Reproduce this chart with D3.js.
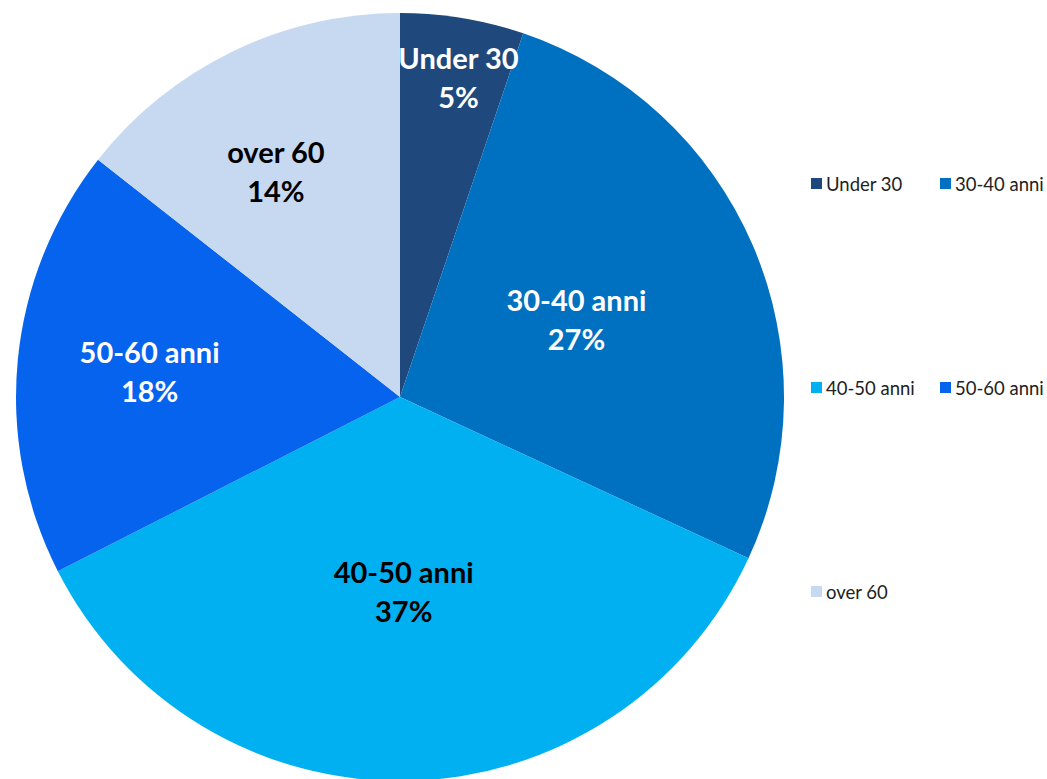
<!DOCTYPE html>
<html>
<head>
<meta charset="utf-8">
<script src="https://cdn.jsdelivr.net/npm/d3@7"></script>
<style>
  body { margin: 0; background: #fff; }
  text { font-family: Lato, "Open Sans", sans-serif; }
</style>
</head>
<body>
<div id="chart"></div>
<script>
// slice data
var categories = ['Under 30', '30-40 anni', '40-50 anni', '50-60 anni', 'over 60']
var values = [5.2, 26.7, 35.6, 18.1, 14.4]
var pctLabels = ['5%', '27%', '37%', '18%', '14%']

var colors = ['#1F497D', '#0070C0', '#00B0F0', '#0563EE', '#C6D9F1']
var labelColors = ['#fff', '#fff', '#000', '#fff', '#000']
// where the data labels sit, as a share of the radius (Excel best fit)
var labelR = [0.84, 0.5, 0.51, 0.65, 0.65]
var labelShift = [6, 0, 0, -2, -15]

var width = 1047
var height = 779
var cx = 400
var cy = 397
var radius = 384

var svg = d3
  .select('#chart')
  .append('svg')
  .attr('width', width)
  .attr('height', height)

var g = svg.append('g').attr('transform', 'translate(' + cx + ',' + cy + ')')

var pie = d3
  .pie()
  .sort(null)
  .value(function(d) {
    return d
  })

var arcs = pie(values)

var arc = d3.arc().innerRadius(0).outerRadius(radius)

g.selectAll('path.slice')
  .data(arcs)
  .enter()
  .append('path')
  .attr('class', 'slice')
  .attr('d', arc)
  .style('fill', function(d, i) {
    return colors[i]
  })
  .style('stroke', 'none')

var labels = g
  .selectAll('g.label')
  .data(arcs)
  .enter()
  .append('g')
  .attr('class', 'label')
  .attr('transform', function(d, i) {
    var r = radius * labelR[i]
    var c = d3.arc().innerRadius(r).outerRadius(r).centroid(d)
    return 'translate(' + (c[0] + labelShift[i]) + ',' + c[1] + ')'
  })

labels
  .append('text')
  .attr('text-anchor', 'middle')
  .attr('y', -10)
  .style('font-size', '29px')
  .style('font-weight', 'bold')
  .style('fill', function(d, i) {
    return labelColors[i]
  })
  .text(function(d, i) {
    return categories[i]
  })

labels
  .append('text')
  .attr('text-anchor', 'middle')
  .attr('y', 29)
  .style('font-size', '29px')
  .style('font-weight', 'bold')
  .style('fill', function(d, i) {
    return labelColors[i]
  })
  .text(function(d, i) {
    return pctLabels[i]
  })

// legend, two columns
var legendX = [811, 940]
var legendY = [184, 388, 592]

var legend = svg
  .selectAll('g.legend')
  .data(categories)
  .enter()
  .append('g')
  .attr('class', 'legend')
  .attr('transform', function(d, i) {
    return 'translate(' + legendX[i % 2] + ',' + legendY[Math.floor(i / 2)] + ')'
  })

legend
  .append('rect')
  .attr('x', 0)
  .attr('y', -6)
  .attr('width', 11)
  .attr('height', 11)
  .style('fill', function(d, i) {
    return colors[i]
  })

legend
  .append('text')
  .attr('x', 15)
  .attr('y', 6.5)
  .style('font-size', '18.5px')
  .style('fill', '#222')
  .text(function(d) {
    return d
  })
</script>
</body>
</html>
